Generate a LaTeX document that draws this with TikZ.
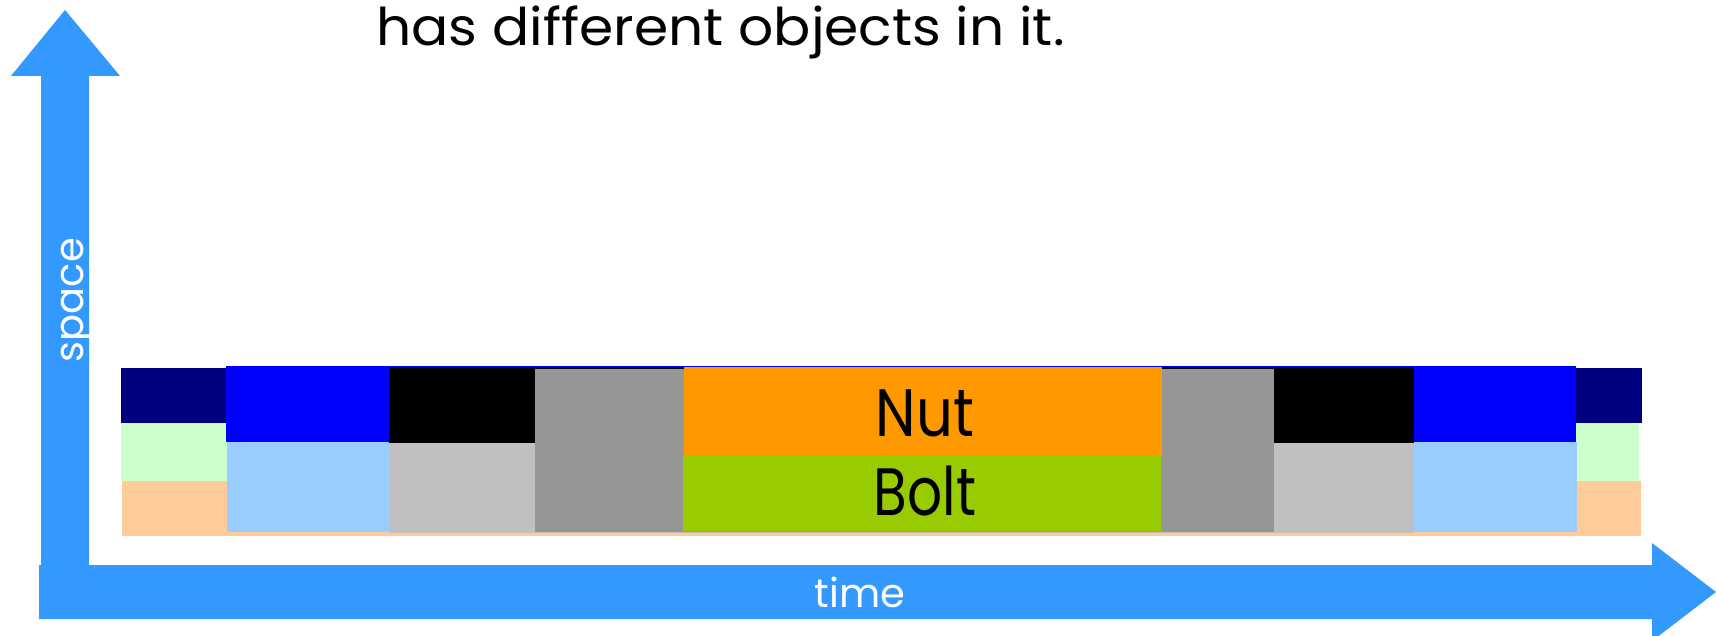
\documentclass[tikz,border=0pt]{standalone}
\usepackage{graphicx}
\usepackage{fontspec}
\setmainfont{Poppins}
\definecolor{arrowblue}{HTML}{3399FF}
\definecolor{navyc}{HTML}{000080}
\definecolor{bluec}{HTML}{0000FF}
\definecolor{lgreenc}{HTML}{CCFFCC}
\definecolor{peachc}{HTML}{FFCC99}
\definecolor{lbluec}{HTML}{99CCFF}
\definecolor{lgrayc}{HTML}{C0C0C0}
\definecolor{dgrayc}{HTML}{969696}
\definecolor{orangec}{HTML}{FF9900}
\definecolor{greenc}{HTML}{99CC00}
\tikzset{
  axisfill/.style={fill=arrowblue},
  axislabel/.style={text=white, font=\fontsize{40}{48}\selectfont, inner sep=0pt},
  objlabel/.style={text=black, font=\fontsize{67}{80}\selectfont, inner sep=0pt},
  titlelabel/.style={text=black, font=\fontsize{52}{62}\selectfont, inner sep=0pt},
}
\begin{document}
\begin{tikzpicture}[x=1pt,y=-1pt]
\useasboundingbox (0,0) rectangle (1716,636);
\fill[white] (0,0) rectangle (1716,636);
\begin{scope}
\clip (0,0) rectangle (1716,636);
% title (second line of a heading, cut at the top)
\node[titlelabel, anchor=base] (title) at (720.5,46) {\scalebox{1.06}[1]{has different objects in it.}};
% time slices (back to front)
\fill[peachc]  (122,481) rectangle (1641,536);
\fill[lgreenc] (121,423) rectangle (1639,481);
\fill[navyc]   (121,368) rectangle (1642,423);
\fill[bluec]   (226,366) rectangle (1576,442);
\fill[lbluec]  (227,442) rectangle (1577,532);
\fill[black]   (389,367) rectangle (1414,443);
\fill[lgrayc]  (390,443) rectangle (1414,533);
\fill[dgrayc]  (535,369) rectangle (1274,532);
\fill[orangec] (684,367) rectangle (1162,455);
\fill[greenc]  (683,455) rectangle (1161,531);
\node[objlabel, anchor=base] (nut) at (925,436) {\scalebox{0.86}[1]{Nut}};
\node[objlabel, anchor=base] (bolt) at (925,515) {\scalebox{0.82}[1]{Bolt}};
% axes
\fill[axisfill] (41,600) -- (41,76) -- (11,76) -- (65,10) -- (120,76) -- (89,76) -- (89,600) -- cycle;
\fill[axisfill] (39,565) -- (1652,565) -- (1652,543) -- (1716,592) -- (1652,641) -- (1652,619) -- (39,619) -- cycle;
\node[axislabel, anchor=base, rotate=90] (space) at (83,300) {space};
\node[axislabel, anchor=base] (time) at (860,607) {time};
\end{scope}
\end{tikzpicture}
\end{document}
